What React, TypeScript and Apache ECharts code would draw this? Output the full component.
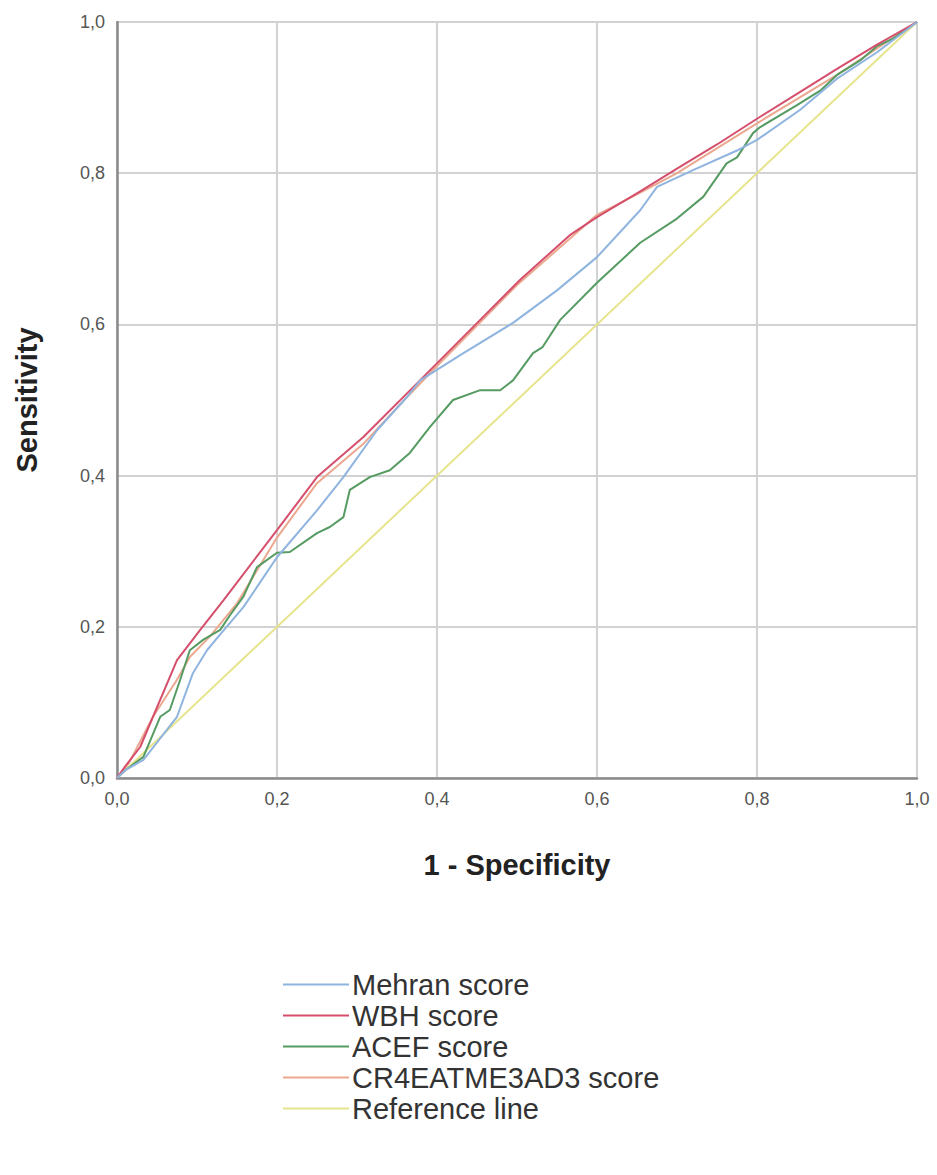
import React, { useEffect, useRef } from "react";
import * as echarts from "echarts";

const seriesNames = ["Mehran score", "WBH score", "ACEF score", "CR4EATME3AD3 score", "Reference line"];
const seriesColors = ["#8fb4df", "#d54f6c", "#559b62", "#eba88f", "#e6e48c"];

const mehran: number[][] = [
  [0, 0], [0.01, 0.01], [0.033, 0.024], [0.075, 0.081], [0.095, 0.139], [0.1125, 0.169], [0.129, 0.19],
  [0.158, 0.226], [0.2, 0.292], [0.25, 0.354], [0.283, 0.398], [0.325, 0.46], [0.3625, 0.504], [0.379, 0.526],
  [0.43, 0.56], [0.495, 0.602], [0.55, 0.645], [0.6, 0.689], [0.654, 0.751], [0.675, 0.782], [0.72, 0.804],
  [0.775, 0.83], [0.8, 0.844], [0.854, 0.884], [0.9, 0.925], [0.95, 0.96], [1, 1],
];
const wbh: number[][] = [
  [0, 0], [0.01, 0.015], [0.029, 0.041], [0.075, 0.156], [0.104, 0.196], [0.133, 0.235], [0.2, 0.328],
  [0.25, 0.398], [0.308, 0.451], [0.375, 0.522], [0.454, 0.606], [0.504, 0.659], [0.566, 0.718], [0.6, 0.742],
  [0.654, 0.776], [0.7, 0.806], [0.75, 0.838], [0.8, 0.872], [0.85, 0.905], [0.9, 0.938], [0.95, 0.97], [1, 1],
];
const acef: number[][] = [
  [0, 0], [0.01, 0.01], [0.033, 0.028], [0.054, 0.081], [0.066, 0.09], [0.079, 0.13], [0.091, 0.169],
  [0.108, 0.183], [0.129, 0.196], [0.141, 0.215], [0.158, 0.24], [0.175, 0.279], [0.2, 0.298], [0.216, 0.299],
  [0.25, 0.324], [0.266, 0.332], [0.283, 0.345], [0.291, 0.381], [0.316, 0.398], [0.341, 0.407], [0.366, 0.43],
  [0.391, 0.464], [0.42, 0.5], [0.454, 0.513], [0.479, 0.513], [0.495, 0.526], [0.52, 0.562], [0.532, 0.57],
  [0.554, 0.606], [0.6, 0.655], [0.654, 0.708], [0.7, 0.74], [0.733, 0.769], [0.762, 0.813], [0.775, 0.821],
  [0.795, 0.853], [0.804, 0.861], [0.85, 0.89], [0.88, 0.91], [0.9, 0.93], [0.93, 0.95], [0.95, 0.968],
  [0.97, 0.978], [1, 1],
];
const cr4: number[][] = [
  [0, 0], [0.015, 0.02], [0.045, 0.081], [0.075, 0.13], [0.091, 0.16], [0.116, 0.187], [0.15, 0.231],
  [0.2, 0.318], [0.25, 0.39], [0.308, 0.442], [0.35, 0.49], [0.4, 0.545], [0.5, 0.652], [0.6, 0.745],
  [0.65, 0.772], [0.7, 0.8], [0.8, 0.866], [0.9, 0.93], [0.95, 0.965], [1, 1],
];
const reference: number[][] = [[0, 0], [1, 1]];

const allData = [mehran, wbh, acef, cr4, reference];

export default function App() {
  const ref = useRef<HTMLDivElement>(null);
  useEffect(() => {
    document.body.style.margin = "0";
    const chart = echarts.init(ref.current!, null, { renderer: "svg" });
    const fmt = (v: number) => v.toFixed(1).replace(".", ",");
    const axisCommon = {
      type: "value" as const,
      min: 0,
      max: 1,
      interval: 0.2,
      axisLine: { show: true, lineStyle: { color: "#8a8a8a", width: 2.5 } },
      axisTick: { show: false },
      splitLine: { show: true, lineStyle: { color: "#d2d2d2", width: 2 } },
      axisLabel: {
        formatter: fmt,
        color: "#555",
        fontSize: 18,
        fontFamily: "Liberation Sans Narrow, Liberation Sans, Arial",
        margin: 12,
      },
      nameLocation: "middle" as const,
      nameTextStyle: { color: "#222", fontSize: 29, fontWeight: "bold" as const, fontFamily: "Liberation Sans, Arial" },
    };
    chart.setOption({
      animation: false,
      backgroundColor: "#ffffff",
      grid: { left: 117, right: 20, top: 22, bottom: 397, containLabel: false },
      xAxis: { ...axisCommon, name: "1 - Specificity", nameGap: 72 },
      yAxis: { ...axisCommon, name: "Sensitivity", nameGap: 76 },
      legend: {
        orient: "vertical",
        left: 278,
        top: 965,
        itemWidth: 66,
        itemHeight: 14,
        itemGap: 2,
        icon: "path://M0,6 L66,6 L66,8 L0,8 Z",
        textStyle: {
          fontSize: 29,
          lineHeight: 29,
          color: "#333",
          fontFamily: "Liberation Sans, Arial",
          padding: [0, 0, 0, -2],
        },
        data: seriesNames,
      },
      series: seriesNames.map((name, i) => ({
        name,
        type: "line",
        data: allData[i],
        symbol: "none",
        smooth: false,
        z: i === 4 ? 1 : 5 - i + 2,
        lineStyle: { color: seriesColors[i], width: 2 },
        itemStyle: { color: seriesColors[i] },
      })),
    });
    return () => chart.dispose();
  }, []);
  return <div ref={ref} style={{ width: 937, height: 1175 }} />;
}
